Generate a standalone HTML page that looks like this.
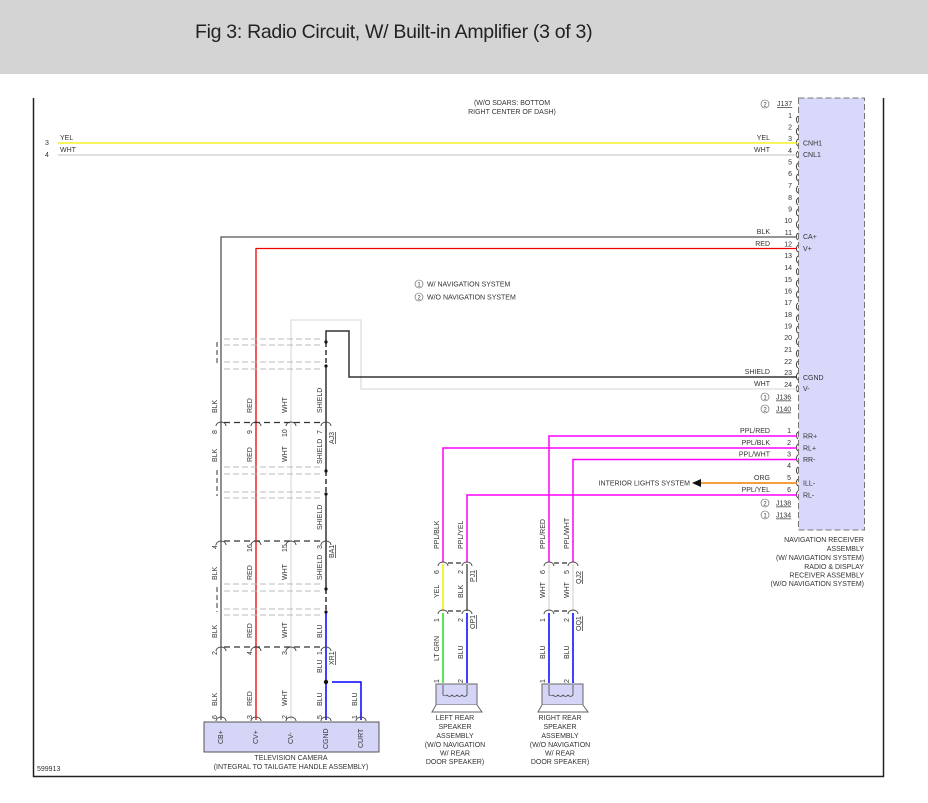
<!DOCTYPE html>
<html><head><meta charset="utf-8"><style>
body{margin:0;background:#fff;}
.hdr{position:absolute;left:0;top:0;width:928px;height:74px;background:#d4d4d4;}
.ttl{position:absolute;left:195px;top:21px;font:19.5px "Liberation Sans",sans-serif;color:#222;letter-spacing:-0.3px;}
svg{position:absolute;left:0;top:0;}
text{font-family:"Liberation Sans",sans-serif;font-size:7px;fill:#333;}
.r{text-anchor:end}.m{text-anchor:middle}
</style></head><body>
<div class="hdr"></div>
<div class="ttl">Fig 3: Radio Circuit, W/ Built-in Amplifier (3 of 3)</div>
<svg width="928" height="803" viewBox="0 0 928 803">
<!-- frame -->
<path d="M33.5 98V776.5H883.5V98" fill="none" stroke="#222" stroke-width="1.5"/>
<!-- nav box -->
<rect x="798.5" y="98" width="66" height="432" fill="#d8d8fa" stroke="#777" stroke-dasharray="6,3"/>
<rect x="798.5" y="98" width="66" height="432" fill="none" stroke="#d8d8fa" stroke-width="0"/>
<text class="m" x="512" y="105">(W/O SDARS: BOTTOM</text>
<text class="m" x="512" y="114">RIGHT CENTER OF DASH)</text>
<circle cx="765" cy="104" r="4" fill="none" stroke="#555" stroke-width=".6"/><text class="m" x="765" y="106.5" style="font-size:6px">2</text>
<text x="777" y="106" style="text-decoration:underline">J137</text>
<!-- J137 pins -->
<g class="r">
<text class="r" x="792" y="118">1</text><text class="r" x="792" y="129.5">2</text><text class="r" x="792" y="141">3</text><text class="r" x="792" y="153">4</text><text class="r" x="792" y="164.5">5</text><text class="r" x="792" y="176">6</text><text class="r" x="792" y="188">7</text><text class="r" x="792" y="200">8</text><text class="r" x="792" y="211.5">9</text><text class="r" x="792" y="223">10</text><text class="r" x="792" y="235">11</text><text class="r" x="792" y="246.5">12</text><text class="r" x="792" y="258">13</text><text class="r" x="792" y="270">14</text><text class="r" x="792" y="282">15</text><text class="r" x="792" y="293.5">16</text><text class="r" x="792" y="305">17</text><text class="r" x="792" y="317">18</text><text class="r" x="792" y="328.5">19</text><text class="r" x="792" y="340">20</text><text class="r" x="792" y="352">21</text><text class="r" x="792" y="364">22</text><text class="r" x="792" y="375">23</text><text class="r" x="792" y="387">24</text>
</g>
<g fill="none" stroke="#444" stroke-width="1">
<path d="M798 116a3 4 0 0 0 0 7M798 128a3 4 0 0 0 0 7M798 139a3 4 0 0 0 0 7M798 151a3 4 0 0 0 0 7M798 163a3 4 0 0 0 0 7M798 174a3 4 0 0 0 0 7M798 186a3 4 0 0 0 0 7M798 198a3 4 0 0 0 0 7M798 209a3 4 0 0 0 0 7M798 221a3 4 0 0 0 0 7M798 233a3 4 0 0 0 0 7M798 245a3 4 0 0 0 0 7M798 256a3 4 0 0 0 0 7M798 268a3 4 0 0 0 0 7M798 280a3 4 0 0 0 0 7M798 291a3 4 0 0 0 0 7M798 303a3 4 0 0 0 0 7M798 315a3 4 0 0 0 0 7M798 326a3 4 0 0 0 0 7M798 338a3 4 0 0 0 0 7M798 350a3 4 0 0 0 0 7M798 361a3 4 0 0 0 0 7M798 373a3 4 0 0 0 0 7M798 385a3 4 0 0 0 0 7"/>
<path d="M798 432a3 4 0 0 0 0 7M798 444a3 4 0 0 0 0 7M798 455a3 4 0 0 0 0 7M798 467a3 4 0 0 0 0 7M798 479a3 4 0 0 0 0 7M798 491a3 4 0 0 0 0 7"/>
</g>
<text x="803" y="145.5">CNH1</text><text x="803" y="157">CNL1</text><text x="803" y="239">CA+</text><text x="803" y="251">V+</text>
<text x="803" y="380">CGND</text><text x="803" y="391">V-</text>
<text x="803" y="438.5">RR+</text><text x="803" y="450.5">RL+</text><text x="803" y="462">RR-</text><text x="803" y="485.5">ILL-</text><text x="803" y="497.5">RL-</text>
<!-- top wires -->
<line x1="58" y1="143" x2="797" y2="143" stroke="#f4f000" stroke-width="1.3"/>
<line x1="58" y1="155" x2="797" y2="155" stroke="#ccc" stroke-width="1.3"/>
<text x="45" y="145">3</text><text x="45" y="157">4</text>
<text x="60" y="140">YEL</text><text x="60" y="152">WHT</text>
<text class="r" x="770" y="140">YEL</text><text class="r" x="770" y="152">WHT</text>
<path d="M797 237H221V720" fill="none" stroke="#555" stroke-width="1.3"/>
<path d="M797 248.5H256V720" fill="none" stroke="#e00" stroke-width="1.3"/>
<text class="r" x="770" y="234">BLK</text><text class="r" x="770" y="246">RED</text>
<circle cx="419" cy="284" r="4" fill="none" stroke="#555" stroke-width=".6"/><text class="m" x="419" y="286.5" style="font-size:6px">1</text>
<circle cx="419" cy="297" r="4" fill="none" stroke="#555" stroke-width=".6"/><text class="m" x="419" y="299.5" style="font-size:6px">2</text>
<text x="427" y="286.5">W/ NAVIGATION SYSTEM</text><text x="427" y="299.5">W/O NAVIGATION SYSTEM</text>
<!-- shield / wht -->
<path d="M797 389H361V320H291V720" fill="none" stroke="#ddd" stroke-width="1.3"/>
<path d="M797 377H349V331H326V342" fill="none" stroke="#333" stroke-width="1.5"/>
<path d="M326 342V366" stroke="#333" stroke-width="1.5" stroke-dasharray="5,3"/>
<path d="M326 366V471" stroke="#333" stroke-width="1.5"/>
<path d="M326 471V494" stroke="#333" stroke-width="1.5" stroke-dasharray="5,3"/>
<path d="M326 494V589" stroke="#333" stroke-width="1.5"/>
<path d="M326 589V612" stroke="#333" stroke-width="1.5" stroke-dasharray="5,3"/>
<path d="M326 612V720M332 682H361V720" fill="none" stroke="#00f" stroke-width="1.5"/>
<g fill="#111"><circle cx="326" cy="342" r="1.6"/><circle cx="326" cy="366" r="1.6"/><circle cx="326" cy="471" r="1.6"/><circle cx="326" cy="494" r="1.6"/><circle cx="326" cy="589" r="1.6"/><circle cx="326" cy="612" r="1.6"/><circle cx="326" cy="682" r="2.2"/></g>
<text class="r" x="770" y="374">SHIELD</text><text class="r" x="770" y="386">WHT</text>
<circle cx="765" cy="397" r="4" fill="none" stroke="#555" stroke-width=".6"/><text class="m" x="765" y="399.5" style="font-size:6px">1</text><text x="776" y="399.5" style="text-decoration:underline">J136</text>
<circle cx="765" cy="409" r="4" fill="none" stroke="#555" stroke-width=".6"/><text class="m" x="765" y="411.5" style="font-size:6px">2</text><text x="776" y="411.5" style="text-decoration:underline">J140</text>
<!-- shield dashed groups -->
<g stroke="#bbb" stroke-width="1" stroke-dasharray="6,3" fill="none">
<path d="M224 339H322M224 345H322M224 362H322M224 369H322"/>
<path d="M224 467H322M224 474H322M224 492H322M224 498H322"/>
<path d="M224 584H322M224 591H322M224 609H322M224 615H322"/>
</g>
<g stroke="#666" stroke-width="1.3" stroke-dasharray="5,3" fill="none">
<path d="M217 342V366M217 470V496M217 587V612"/>
</g>
<!-- connector rows -->
<g stroke="#333" stroke-width="1.2" stroke-dasharray="6,4" fill="none">
<path d="M224 422.5H323M224 541H323M224 647H323"/>
</g>
<g fill="none" stroke="#444" stroke-width=".9">
<path d="M216 426a5 4 0 0 1 10 0M251 426a5 4 0 0 1 10 0M286 426a5 4 0 0 1 10 0M321 426a5 4 0 0 1 10 0"/>
<path d="M216 545a5 4 0 0 1 10 0M251 545a5 4 0 0 1 10 0M286 545a5 4 0 0 1 10 0M321 545a5 4 0 0 1 10 0"/>
<path d="M216 651a5 4 0 0 1 10 0M251 651a5 4 0 0 1 10 0M286 651a5 4 0 0 1 10 0M321 651a5 4 0 0 1 10 0"/>
<path d="M216 721a5 4 0 0 1 10 0M251 721a5 4 0 0 1 10 0M286 721a5 4 0 0 1 10 0M321 721a5 4 0 0 1 10 0M356 721a5 4 0 0 1 10 0"/>
</g>
<!-- rotated labels left group -->
<g>
<text transform="translate(217,413) rotate(-90)">BLK</text><text transform="translate(252,413) rotate(-90)">RED</text><text transform="translate(287,413) rotate(-90)">WHT</text><text transform="translate(322,413) rotate(-90)">SHIELD</text>
<text transform="translate(217,434) rotate(-90)">8</text><text transform="translate(252,434) rotate(-90)">9</text><text transform="translate(287,437) rotate(-90)">10</text><text transform="translate(322,434) rotate(-90)">7</text>
<text transform="translate(334,444) rotate(-90)" style="text-decoration:underline">AJ3</text>
<text transform="translate(217,462) rotate(-90)">BLK</text><text transform="translate(252,462) rotate(-90)">RED</text><text transform="translate(287,462) rotate(-90)">WHT</text><text transform="translate(322,464) rotate(-90)">SHIELD</text>
<text transform="translate(322,530) rotate(-90)">SHIELD</text>
<text transform="translate(217,549) rotate(-90)">4</text><text transform="translate(252,552) rotate(-90)">16</text><text transform="translate(287,552) rotate(-90)">15</text><text transform="translate(322,549) rotate(-90)">3</text>
<text transform="translate(334,558) rotate(-90)" style="text-decoration:underline">BA1</text>
<text transform="translate(217,580) rotate(-90)">BLK</text><text transform="translate(252,580) rotate(-90)">RED</text><text transform="translate(287,580) rotate(-90)">WHT</text><text transform="translate(322,580) rotate(-90)">SHIELD</text>
<text transform="translate(217,638) rotate(-90)">BLK</text><text transform="translate(252,638) rotate(-90)">RED</text><text transform="translate(287,638) rotate(-90)">WHT</text><text transform="translate(322,638) rotate(-90)">BLU</text>
<text transform="translate(217,655) rotate(-90)">2</text><text transform="translate(252,655) rotate(-90)">4</text><text transform="translate(287,655) rotate(-90)">3</text><text transform="translate(322,655) rotate(-90)">1</text>
<text transform="translate(334,665) rotate(-90)" style="text-decoration:underline">XR1</text>
<text transform="translate(322,673) rotate(-90)">BLU</text>
<text transform="translate(217,706) rotate(-90)">BLK</text><text transform="translate(252,706) rotate(-90)">RED</text><text transform="translate(287,706) rotate(-90)">WHT</text><text transform="translate(322,706) rotate(-90)">BLU</text><text transform="translate(357,706) rotate(-90)">BLU</text>
<text transform="translate(217,719) rotate(-90)">6</text><text transform="translate(252,719) rotate(-90)">3</text><text transform="translate(287,719) rotate(-90)">2</text><text transform="translate(322,719) rotate(-90)">5</text><text transform="translate(357,719) rotate(-90)">1</text>
</g>
<!-- camera box -->
<rect x="204" y="722" width="175" height="30" fill="#d5d5f7" stroke="#555"/>
<text transform="translate(223,744) rotate(-90)">CB+</text><text transform="translate(258,744) rotate(-90)">CV+</text><text transform="translate(293,744) rotate(-90)">CV-</text><text transform="translate(328,749) rotate(-90)">CGND</text><text transform="translate(363,748) rotate(-90)">CURT</text>
<text class="m" x="291" y="760">TELEVISION CAMERA</text>
<text class="m" x="291" y="769">(INTEGRAL TO TAILGATE HANDLE ASSEMBLY)</text>
<text x="37" y="771">599913</text>
<!-- pink wires -->
<g fill="none" stroke-width="1.5">
<path d="M797 436H549V562" stroke="#f0f"/>
<path d="M797 448H443V562" stroke="#f0f"/>
<path d="M797 459.5H573V562" stroke="#f0f"/>
<path d="M797 495H467V562" stroke="#f0f"/>
<path d="M797 483H700" stroke="#f08000"/>
<path d="M443 564V611" stroke="#ee0"/><path d="M443 613V683" stroke="#2d2"/>
<path d="M467 564V611" stroke="#555"/><path d="M467 613V683" stroke="#00f"/>
<path d="M549 564V611" stroke="#ddd"/><path d="M549 613V683" stroke="#00f"/>
<path d="M573 564V611" stroke="#ddd"/><path d="M573 613V683" stroke="#00f"/>
</g>
<path d="M692 483L701 479V487Z" fill="#111"/>
<text class="r" x="690" y="485.5">INTERIOR LIGHTS SYSTEM</text>
<text class="r" x="770" y="433">PPL/RED</text><text class="r" x="770" y="445">PPL/BLK</text><text class="r" x="770" y="456.5">PPL/WHT</text><text class="r" x="770" y="480">ORG</text><text class="r" x="770" y="492">PPL/YEL</text>
<text class="r" x="791" y="433">1</text><text class="r" x="791" y="445">2</text><text class="r" x="791" y="456.5">3</text><text class="r" x="791" y="468">4</text><text class="r" x="791" y="480">5</text><text class="r" x="791" y="492">6</text>
<circle cx="765" cy="503" r="4" fill="none" stroke="#555" stroke-width=".6"/><text class="m" x="765" y="505.5" style="font-size:6px">2</text><text x="776" y="505.5" style="text-decoration:underline">J138</text>
<circle cx="765" cy="515" r="4" fill="none" stroke="#555" stroke-width=".6"/><text class="m" x="765" y="517.5" style="font-size:6px">1</text><text x="776" y="517.5" style="text-decoration:underline">J134</text>
<g class="r">
<text class="r" x="864" y="542">NAVIGATION RECEIVER</text><text class="r" x="864" y="551">ASSEMBLY</text><text class="r" x="864" y="560">(W/ NAVIGATION SYSTEM)</text><text class="r" x="864" y="569">RADIO &amp; DISPLAY</text><text class="r" x="864" y="577.5">RECEIVER ASSEMBLY</text><text class="r" x="864" y="586">(W/O NAVIGATION SYSTEM)</text>
</g>
<!-- speaker connectors -->
<g stroke="#333" stroke-width="1.2" stroke-dasharray="5,3" fill="none"><path d="M448 563H462M554 563H568M448 611H462M554 611H568"/></g>
<g fill="none" stroke="#444" stroke-width=".9">
<path d="M438 566a5 4 0 0 1 10 0M462 566a5 4 0 0 1 10 0M544 566a5 4 0 0 1 10 0M568 566a5 4 0 0 1 10 0"/>
<path d="M438 614a5 4 0 0 1 10 0M462 614a5 4 0 0 1 10 0M544 614a5 4 0 0 1 10 0M568 614a5 4 0 0 1 10 0"/>
</g>
<text transform="translate(439,549) rotate(-90)">PPL/BLK</text><text transform="translate(463,549) rotate(-90)">PPL/YEL</text><text transform="translate(545,549) rotate(-90)">PPL/RED</text><text transform="translate(569,549) rotate(-90)">PPL/WHT</text>
<text transform="translate(439,574) rotate(-90)">6</text><text transform="translate(463,574) rotate(-90)">2</text><text transform="translate(545,574) rotate(-90)">6</text><text transform="translate(569,574) rotate(-90)">5</text>
<text transform="translate(475,582) rotate(-90)" style="text-decoration:underline">PJ1</text><text transform="translate(581,584) rotate(-90)" style="text-decoration:underline">QJ2</text>
<text transform="translate(439,598) rotate(-90)">YEL</text><text transform="translate(463,598) rotate(-90)">BLK</text><text transform="translate(545,598) rotate(-90)">WHT</text><text transform="translate(569,598) rotate(-90)">WHT</text>
<text transform="translate(439,622) rotate(-90)">1</text><text transform="translate(463,622) rotate(-90)">2</text><text transform="translate(545,622) rotate(-90)">1</text><text transform="translate(569,622) rotate(-90)">2</text>
<text transform="translate(475,629) rotate(-90)" style="text-decoration:underline">OP1</text><text transform="translate(581,631) rotate(-90)" style="text-decoration:underline">OQ1</text>
<text transform="translate(439,661) rotate(-90)">LT GRN</text><text transform="translate(463,659) rotate(-90)">BLU</text><text transform="translate(545,659) rotate(-90)">BLU</text><text transform="translate(569,659) rotate(-90)">BLU</text>
<text transform="translate(439,683) rotate(-90)">1</text><text transform="translate(463,683) rotate(-90)">2</text><text transform="translate(545,683) rotate(-90)">1</text><text transform="translate(569,683) rotate(-90)">2</text>
<!-- speakers -->
<g>
<rect x="436" y="684" width="41" height="21" fill="#d5d5f7" stroke="#666"/>
<path d="M436 705L432 712H482L477 705" fill="#fff" stroke="#666"/>
<path d="M443 685V695a3 3 0 0 0 4 0a3 3 0 0 0 5 0a3 3 0 0 0 5 0a3 3 0 0 0 5 0a3 3 0 0 0 5 0V685" fill="none" stroke="#444" stroke-width=".8"/>
<rect x="542" y="684" width="41" height="21" fill="#d5d5f7" stroke="#666"/>
<path d="M542 705L538 712H588L583 705" fill="#fff" stroke="#666"/>
<path d="M549 685V695a3 3 0 0 0 4 0a3 3 0 0 0 5 0a3 3 0 0 0 5 0a3 3 0 0 0 5 0a3 3 0 0 0 5 0V685" fill="none" stroke="#444" stroke-width=".8"/>
</g>
<g class="m">
<text class="m" x="455" y="720">LEFT REAR</text><text class="m" x="455" y="729">SPEAKER</text><text class="m" x="455" y="738">ASSEMBLY</text><text class="m" x="455" y="747">(W/O NAVIGATION</text><text class="m" x="455" y="755.5">W/ REAR</text><text class="m" x="455" y="764">DOOR SPEAKER)</text>
<text class="m" x="560" y="720">RIGHT REAR</text><text class="m" x="560" y="729">SPEAKER</text><text class="m" x="560" y="738">ASSEMBLY</text><text class="m" x="560" y="747">(W/O NAVIGATION</text><text class="m" x="560" y="755.5">W/ REAR</text><text class="m" x="560" y="764">DOOR SPEAKER)</text>
</g>
</svg>
</body></html>
